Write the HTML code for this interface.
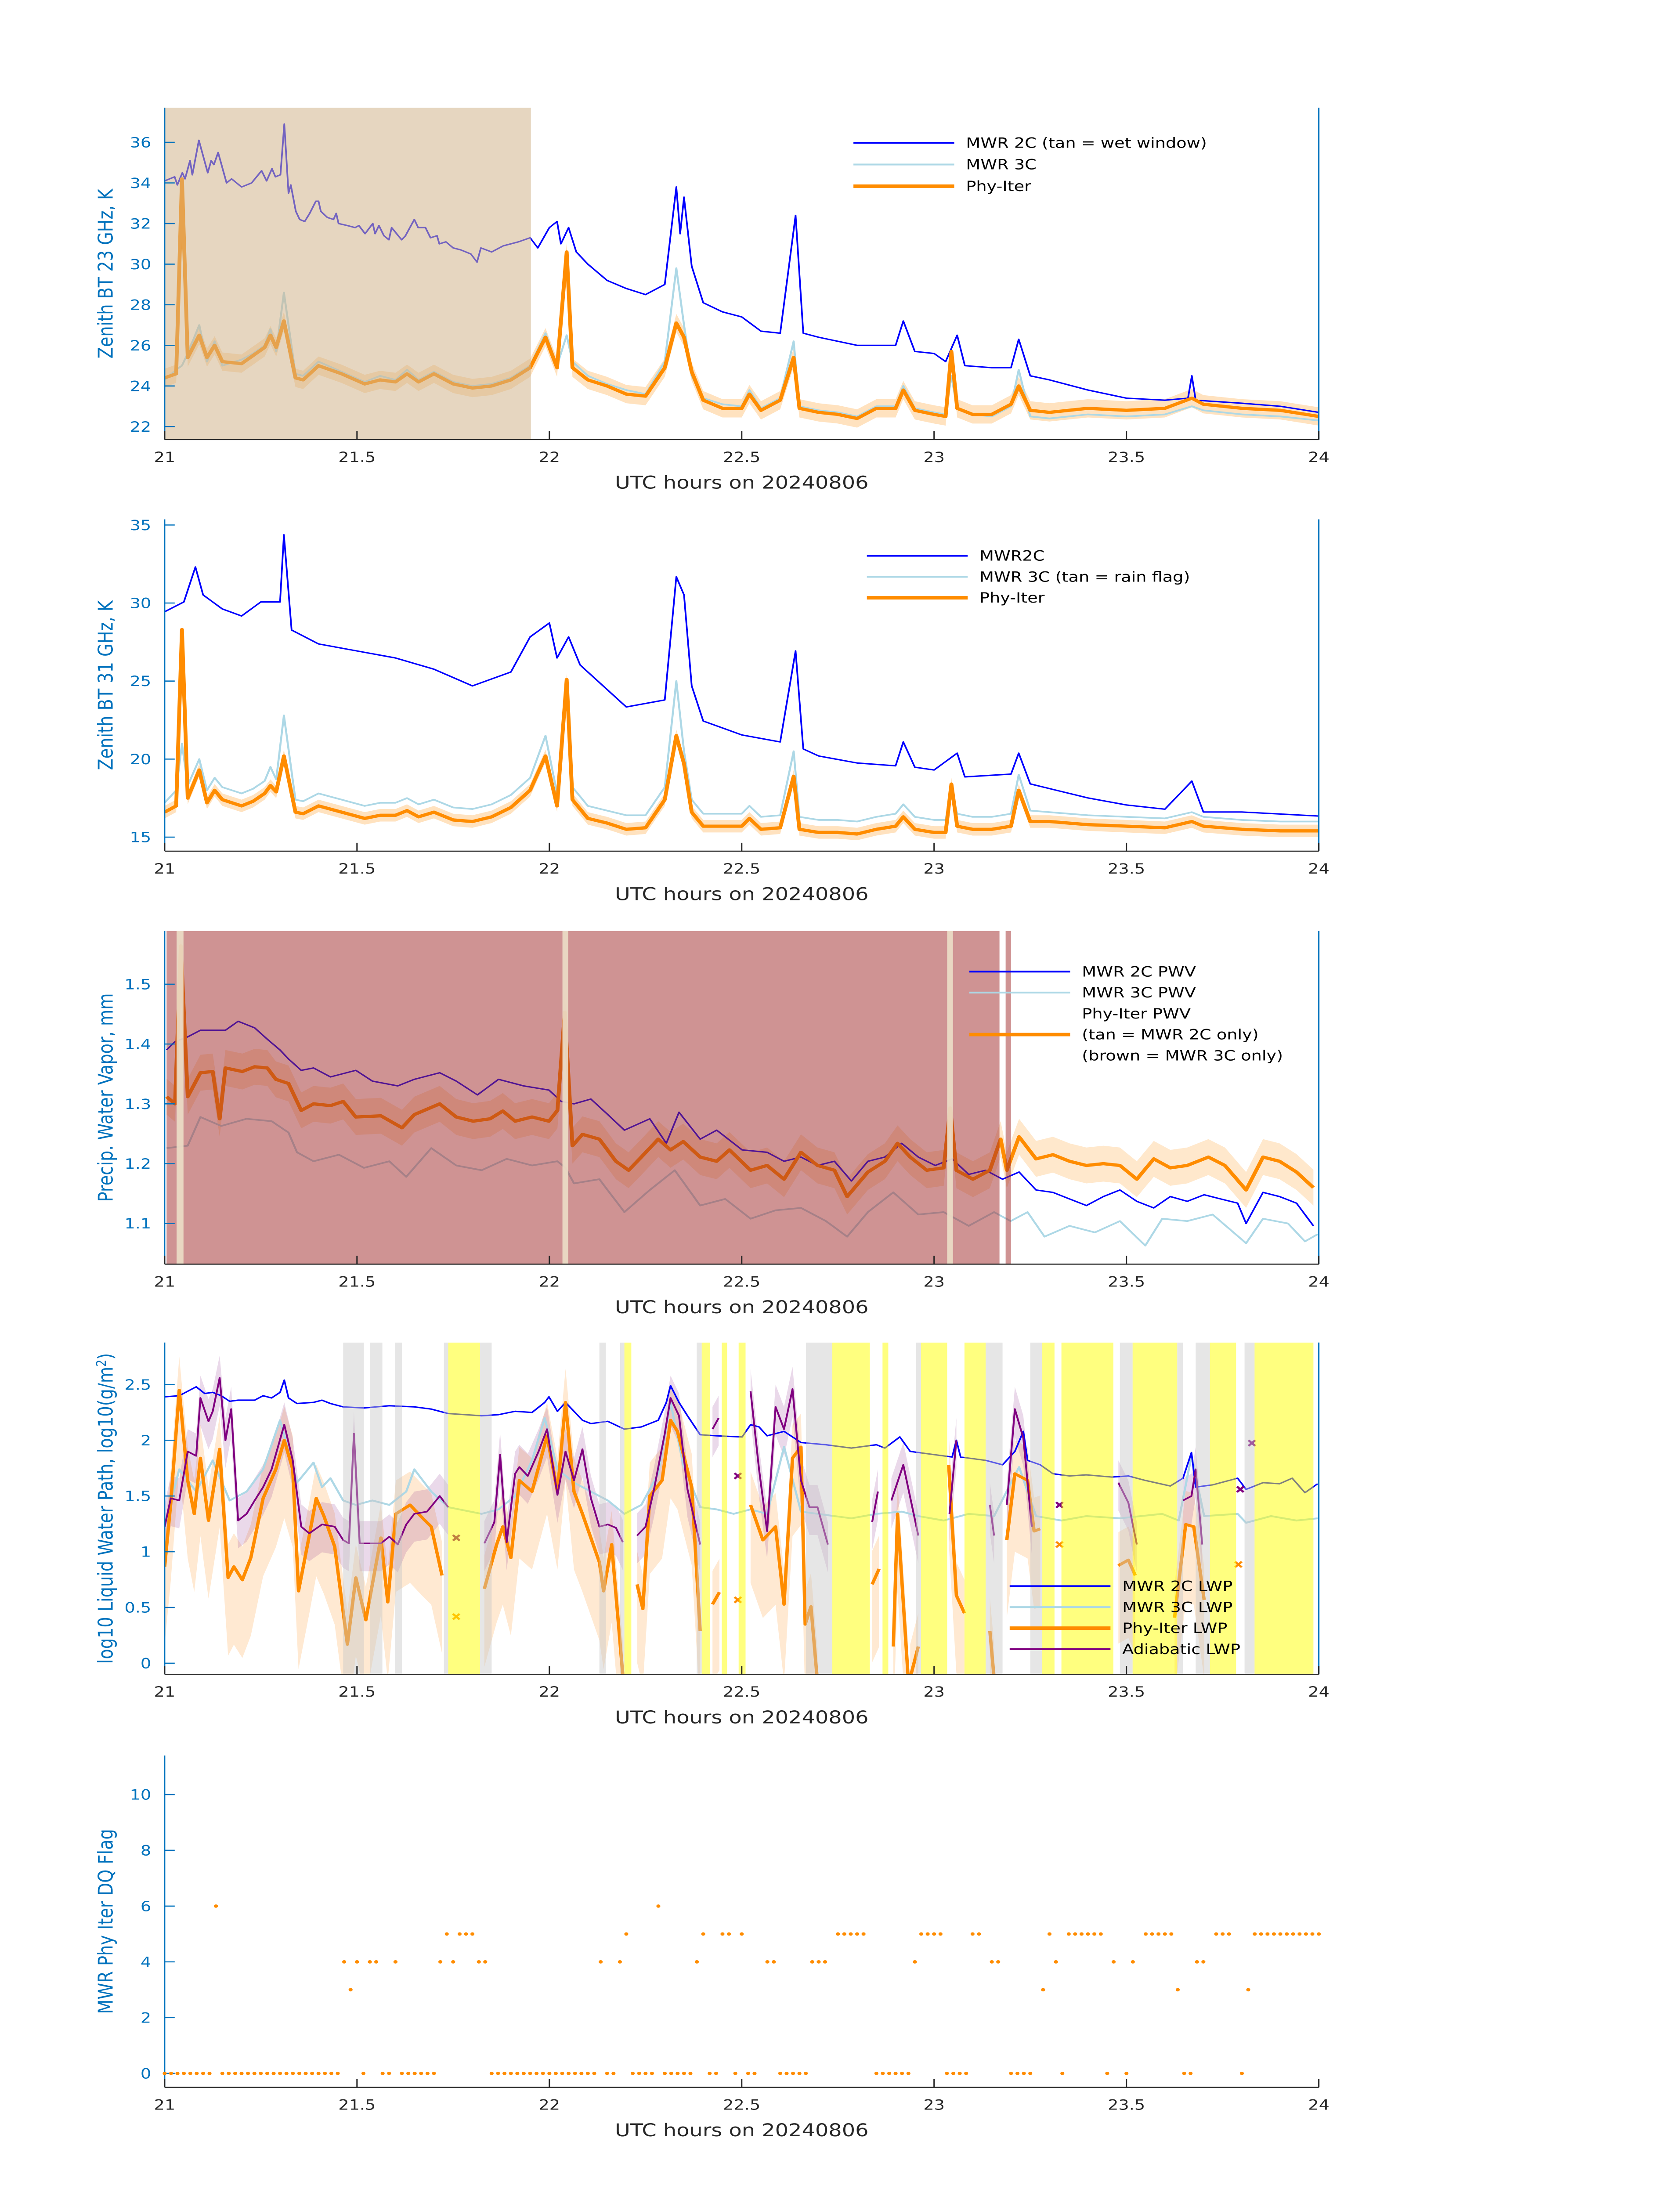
<!DOCTYPE html>
<html><head><meta charset="utf-8"><style>
html,body{margin:0;padding:0;background:#fff;overflow:hidden;width:100%;height:100%}
svg{display:block;width:100vw;height:100vh}
text{font-family:"DejaVu Sans","Liberation Sans",sans-serif}
</style></head><body>
<svg id="fig" xmlns="http://www.w3.org/2000/svg" viewBox="0 0 1000 1568.63" preserveAspectRatio="none"></svg>
<script>
// ---------- DATA ----------
const tPhy=[21,21.03,21.045,21.06,21.09,21.11,21.13,21.15,21.2,21.23,21.26,21.275,21.29,21.31,21.34,21.36,21.4,21.46,21.52,21.56,21.6,21.63,21.66,21.7,21.75,21.8,21.85,21.9,21.95,21.99,22.02,22.045,22.06,22.1,22.15,22.2,22.25,22.3,22.33,22.35,22.37,22.4,22.45,22.5,22.52,22.55,22.6,22.635,22.65,22.7,22.75,22.8,22.85,22.9,22.92,22.95,23,23.03,23.045,23.06,23.1,23.15,23.2,23.22,23.25,23.3,23.4,23.5,23.6,23.67,23.7,23.8,23.9,24];
const p1Phy=[24.4,24.6,34.2,25.4,26.5,25.4,26.0,25.2,25.1,25.5,25.9,26.5,25.9,27.2,24.4,24.3,25.0,24.6,24.1,24.3,24.2,24.6,24.2,24.6,24.1,23.9,24.0,24.3,24.9,26.4,24.9,30.6,24.9,24.3,24.0,23.6,23.5,24.9,27.1,26.4,24.7,23.3,22.9,22.9,23.6,22.8,23.3,25.4,22.9,22.7,22.6,22.4,22.9,22.9,23.8,22.8,22.6,22.5,25.7,22.9,22.6,22.6,23.1,24.0,22.8,22.7,22.9,22.8,22.9,23.4,23.1,22.9,22.8,22.5];
const p13C=[24.3,24.8,25.0,25.6,27.0,25.2,26.2,25.0,25.3,25.6,26.0,26.8,25.7,28.6,24.6,24.5,25.2,24.7,24.2,24.5,24.3,24.8,24.3,24.7,24.2,24.0,24.1,24.4,25.0,26.6,25.0,26.5,25.2,24.5,24.1,23.8,23.6,25.2,29.8,27.0,24.5,23.4,23.1,23.0,23.8,22.9,23.4,26.2,23.0,22.8,22.7,22.5,23.0,23.0,24.0,22.9,22.7,22.6,24.5,22.9,22.6,22.5,23.0,24.8,22.5,22.4,22.6,22.5,22.6,23.0,22.8,22.6,22.5,22.3];
const p2Phy=[16.6,17.0,28.3,17.5,19.3,17.2,18.0,17.4,17.0,17.3,17.8,18.3,17.9,20.2,16.6,16.5,17.0,16.6,16.2,16.4,16.4,16.7,16.3,16.6,16.1,16.0,16.3,16.9,18.0,20.2,17.0,25.1,17.4,16.2,15.9,15.5,15.6,17.4,21.5,19.7,16.6,15.7,15.7,15.7,16.2,15.5,15.6,18.9,15.5,15.3,15.3,15.2,15.5,15.7,16.3,15.5,15.3,15.3,18.4,15.7,15.5,15.5,15.7,18.0,16.0,16.0,15.8,15.7,15.6,16.0,15.7,15.5,15.4,15.4];
const p23C=[17.2,18.0,21.0,18.3,20.0,18.0,18.8,18.2,17.8,18.1,18.6,19.5,18.7,22.8,17.4,17.3,17.8,17.4,17.0,17.2,17.2,17.5,17.1,17.4,16.9,16.8,17.1,17.7,18.8,21.5,17.8,24.5,18.2,17.0,16.7,16.4,16.4,18.2,25.0,20.5,17.4,16.5,16.5,16.5,17.0,16.3,16.4,20.5,16.3,16.1,16.1,16.0,16.3,16.5,17.1,16.3,16.1,16.1,18.0,16.5,16.3,16.3,16.5,19.0,16.7,16.6,16.4,16.3,16.2,16.6,16.3,16.1,16.0,16.0];
const p1T2C=[21,21.026,21.033,21.046,21.053,21.066,21.072,21.089,21.112,21.121,21.128,21.139,21.161,21.174,21.2,21.226,21.252,21.265,21.279,21.288,21.301,21.311,21.322,21.328,21.341,21.351,21.364,21.377,21.393,21.4,21.406,21.423,21.439,21.446,21.452,21.475,21.495,21.505,21.521,21.541,21.547,21.557,21.57,21.583,21.59,21.616,21.626,21.649,21.659,21.678,21.691,21.708,21.714,21.731,21.75,21.77,21.796,21.812,21.822,21.85,21.88,21.92,21.95,21.97,22.0,22.02,22.03,22.05,22.07,22.1,22.15,22.2,22.25,22.3,22.33,22.34,22.35,22.37,22.4,22.45,22.5,22.55,22.6,22.64,22.66,22.7,22.8,22.9,22.92,22.95,23.0,23.03,23.06,23.08,23.15,23.2,23.22,23.25,23.3,23.4,23.5,23.6,23.66,23.67,23.68,23.8,23.9,24.0];
const p1V2C=[34.1,34.3,33.9,34.5,34.2,35.1,34.4,36.1,34.5,35.1,34.9,35.5,34.0,34.2,33.8,34.0,34.6,34.1,34.7,34.3,34.4,36.9,33.5,33.9,32.6,32.2,32.1,32.5,33.1,33.1,32.6,32.3,32.2,32.5,32.0,31.9,31.8,31.9,31.5,32.0,31.5,31.9,31.4,31.2,31.8,31.2,31.4,32.2,31.8,31.8,31.3,31.4,31.0,31.1,30.8,30.7,30.5,30.1,30.8,30.6,30.9,31.1,31.3,30.8,31.8,32.1,31.0,31.8,30.6,30.0,29.2,28.8,28.5,29.0,33.8,31.5,33.3,29.9,28.1,27.65,27.4,26.7,26.6,32.4,26.6,26.4,26.0,26.0,27.2,25.7,25.6,25.2,26.5,25.0,24.9,24.9,26.3,24.5,24.3,23.8,23.4,23.3,23.4,24.5,23.3,23.15,23.0,22.7];
const p2T2C=[21,21.05,21.08,21.1,21.15,21.2,21.25,21.3,21.31,21.33,21.4,21.5,21.6,21.7,21.8,21.9,21.95,22,22.02,22.05,22.08,22.1,22.2,22.3,22.33,22.35,22.37,22.4,22.5,22.6,22.64,22.66,22.7,22.8,22.9,22.92,22.95,23,23.06,23.08,23.2,23.22,23.25,23.4,23.5,23.6,23.67,23.7,23.8,24];
const p2V2C=[29.44,30.07,32.31,30.52,29.62,29.17,30.07,30.07,34.37,28.27,27.38,26.93,26.48,25.76,24.69,25.58,27.83,28.72,26.48,27.83,26.03,25.58,23.34,23.79,31.68,30.52,24.69,22.44,21.55,21.1,26.93,20.65,20.2,19.75,19.57,21.1,19.48,19.3,20.38,18.86,19.04,20.38,18.41,17.51,17.06,16.79,18.59,16.61,16.61,16.35];
// Panel 3 PWV
const p3T2C=[21.005,21.027,21.06,21.093,21.125,21.158,21.191,21.234,21.267,21.3,21.322,21.355,21.387,21.431,21.497,21.54,21.606,21.649,21.715,21.758,21.813,21.868,21.933,21.999,22.031,22.064,22.108,22.152,22.195,22.261,22.304,22.337,22.392,22.435,22.501,22.566,22.61,22.654,22.697,22.741,22.785,22.828,22.872,22.916,22.959,23.003,23.047,23.09,23.134,23.178,23.221,23.265,23.309,23.352,23.396,23.44,23.483,23.527,23.571,23.614,23.658,23.702,23.745,23.789,23.811,23.855,23.898,23.942,23.986];
const p3V2C=[1.390,1.404,1.412,1.423,1.423,1.423,1.438,1.427,1.408,1.390,1.375,1.356,1.360,1.345,1.356,1.338,1.330,1.341,1.352,1.338,1.315,1.341,1.330,1.323,1.304,1.300,1.308,1.282,1.256,1.275,1.234,1.286,1.241,1.256,1.223,1.219,1.204,1.211,1.197,1.204,1.171,1.204,1.211,1.234,1.211,1.197,1.208,1.182,1.189,1.174,1.186,1.156,1.152,1.141,1.130,1.145,1.156,1.137,1.126,1.145,1.137,1.148,1.141,1.134,1.100,1.152,1.145,1.134,1.096];
const p3TPhy=[21.005,21.027,21.042,21.06,21.093,21.125,21.143,21.158,21.202,21.234,21.267,21.289,21.322,21.355,21.387,21.431,21.464,21.497,21.562,21.617,21.649,21.715,21.758,21.802,21.846,21.879,21.911,21.955,21.999,22.021,22.04,22.06,22.086,22.13,22.173,22.206,22.239,22.283,22.315,22.348,22.392,22.435,22.468,22.523,22.566,22.61,22.654,22.697,22.741,22.774,22.828,22.872,22.905,22.938,22.981,23.025,23.042,23.058,23.101,23.145,23.173,23.189,23.221,23.265,23.309,23.352,23.396,23.44,23.483,23.527,23.571,23.614,23.658,23.713,23.756,23.811,23.855,23.898,23.942,23.986];
const p3VPhy=[1.312,1.300,1.564,1.312,1.352,1.354,1.275,1.360,1.354,1.362,1.360,1.341,1.334,1.289,1.300,1.297,1.304,1.278,1.280,1.260,1.282,1.300,1.278,1.271,1.275,1.288,1.271,1.278,1.271,1.289,1.453,1.230,1.249,1.241,1.204,1.189,1.211,1.241,1.223,1.237,1.211,1.204,1.223,1.189,1.197,1.174,1.219,1.197,1.189,1.145,1.186,1.204,1.234,1.211,1.189,1.193,1.293,1.189,1.174,1.189,1.241,1.189,1.245,1.208,1.215,1.204,1.197,1.200,1.197,1.174,1.208,1.193,1.197,1.211,1.197,1.156,1.211,1.204,1.186,1.160];
const p3T3C=[21.005,21.06,21.093,21.147,21.213,21.278,21.322,21.344,21.387,21.453,21.518,21.584,21.628,21.693,21.758,21.824,21.889,21.955,22.021,22.042,22.064,22.13,22.195,22.261,22.326,22.392,22.457,22.523,22.588,22.654,22.719,22.774,22.828,22.894,22.959,23.025,23.09,23.156,23.199,23.243,23.287,23.352,23.418,23.483,23.549,23.593,23.658,23.724,23.811,23.855,23.92,23.964,23.997];
const p3V3C=[1.226,1.230,1.278,1.263,1.275,1.271,1.252,1.219,1.204,1.215,1.193,1.204,1.178,1.226,1.197,1.189,1.208,1.197,1.204,1.193,1.167,1.174,1.119,1.156,1.189,1.130,1.141,1.108,1.122,1.126,1.104,1.078,1.119,1.152,1.115,1.119,1.096,1.119,1.104,1.119,1.078,1.096,1.085,1.104,1.063,1.108,1.104,1.115,1.067,1.108,1.100,1.070,1.082];
const p3Brown=[[21.005,23.17],[23.186,23.2]];
const p3Tan=[[21.031,21.049],[22.034,22.049],[23.034,23.049]];
// Panel 4 LWP
const p4T2C=[21.0,21.038,21.06,21.082,21.104,21.125,21.147,21.169,21.191,21.234,21.256,21.278,21.3,21.311,21.322,21.344,21.387,21.409,21.431,21.464,21.518,21.584,21.649,21.693,21.737,21.824,21.868,21.911,21.955,21.988,21.999,22.021,22.042,22.064,22.086,22.108,22.152,22.195,22.239,22.283,22.304,22.315,22.337,22.359,22.392,22.435,22.501,22.523,22.545,22.566,22.61,22.654,22.719,22.785,22.85,22.872,22.911,22.938,23.003,23.047,23.058,23.069,23.134,23.178,23.21,23.232,23.243,23.276,23.309,23.352,23.396,23.462,23.505,23.549,23.614,23.647,23.669,23.68,23.724,23.789,23.811,23.855,23.898,23.931,23.964,23.997];
const p4V2C=[2.39,2.40,2.44,2.48,2.42,2.43,2.40,2.35,2.36,2.36,2.40,2.38,2.43,2.54,2.38,2.33,2.34,2.36,2.33,2.30,2.29,2.31,2.30,2.28,2.24,2.22,2.23,2.26,2.25,2.34,2.39,2.26,2.34,2.26,2.18,2.15,2.17,2.10,2.12,2.18,2.34,2.49,2.34,2.22,2.05,2.04,2.03,2.14,2.12,2.04,2.08,1.98,1.96,1.93,1.96,1.93,2.03,1.90,1.87,1.85,2.00,1.85,1.82,1.78,1.90,2.08,1.82,1.78,1.70,1.68,1.69,1.67,1.68,1.64,1.59,1.66,1.89,1.58,1.60,1.66,1.56,1.62,1.61,1.66,1.53,1.61];
const p4T3C=[21.0,21.038,21.082,21.125,21.169,21.213,21.256,21.3,21.344,21.387,21.409,21.431,21.464,21.497,21.54,21.584,21.628,21.649,21.693,21.737,21.824,21.868,21.911,21.955,21.988,22.021,22.064,22.108,22.152,22.195,22.239,22.283,22.315,22.348,22.392,22.435,22.479,22.523,22.566,22.61,22.654,22.741,22.785,22.85,22.916,22.959,23.025,23.09,23.156,23.221,23.265,23.331,23.396,23.483,23.593,23.636,23.669,23.702,23.789,23.811,23.876,23.942,23.997];
const p4V3C=[1.225,1.74,1.54,1.82,1.46,1.54,1.74,2.18,1.62,1.80,1.58,1.66,1.46,1.42,1.46,1.42,1.54,1.74,1.54,1.40,1.34,1.38,1.50,1.82,2.20,1.74,1.62,1.54,1.46,1.34,1.42,1.70,2.34,1.78,1.40,1.38,1.34,1.38,1.34,1.94,1.36,1.32,1.30,1.34,1.36,1.32,1.28,1.34,1.32,1.76,1.32,1.28,1.32,1.30,1.34,1.28,1.86,1.32,1.34,1.26,1.32,1.28,1.30];
const p4TPhy=[21.0,21.016,21.038,21.06,21.077,21.093,21.114,21.143,21.165,21.18,21.202,21.224,21.256,21.289,21.311,21.333,21.348,21.376,21.394,21.414,21.442,21.475,21.497,21.523,21.562,21.58,21.601,21.638,21.671,21.693,21.721,null,21.831,21.863,21.879,21.9,21.922,21.955,21.994,22.021,22.042,22.064,22.086,22.13,22.141,22.162,22.191,null,22.228,22.243,22.261,22.293,22.315,22.333,22.37,22.392,null,22.424,22.442,null,22.523,22.555,22.588,22.61,22.632,22.654,22.665,22.68,22.697,null,22.839,22.857,null,22.894,22.905,22.933,null,22.938,22.959,null,23.038,23.058,23.079,null,23.145,23.156,null,23.189,23.21,23.243,23.26,23.276,null,23.479,23.505,23.523,null,23.625,23.654,23.675,23.702];
const p4VPhy=[0.866,1.44,2.45,1.64,1.34,1.84,1.28,1.92,0.767,0.866,0.747,0.946,1.48,1.74,2.00,1.74,0.647,1.145,1.48,1.32,1.046,0.169,0.767,0.388,1.125,0.548,1.34,1.42,1.30,1.225,0.787,null,0.667,1.065,1.225,0.946,1.64,1.54,2.04,1.54,2.34,1.54,1.34,0.906,0.647,1.065,-0.11,null,0.707,0.488,1.50,1.64,2.18,2.08,1.58,0.289,null,0.528,0.637,null,1.42,1.105,1.225,0.528,1.84,1.94,0.349,0.508,-0.17,null,0.707,0.846,null,0.15,1.34,-0.15,null,-0.13,0.15,null,1.78,0.608,0.448,null,0.289,-0.13,null,1.105,1.70,1.64,1.185,1.205,null,0.876,0.926,0.787,null,0.408,1.245,1.225,0.568];
const p4TAdi=[21.0,21.016,21.038,21.06,21.082,21.093,21.114,21.125,21.143,21.158,21.173,21.191,21.213,21.234,21.256,21.278,21.311,21.333,21.355,21.376,21.409,21.442,21.464,21.479,21.492,21.507,21.562,21.584,21.606,21.628,21.649,21.682,21.715,21.737,null,21.831,21.857,21.872,21.889,21.911,21.922,21.944,21.972,21.994,22.021,22.042,22.064,22.086,22.108,22.13,22.152,22.173,22.191,null,22.228,22.25,22.272,22.3,22.315,22.337,22.359,22.392,null,22.424,22.44,null,22.523,22.545,22.566,22.588,22.61,22.632,22.654,22.676,22.697,22.724,null,22.839,22.854,null,22.889,22.92,22.959,null,23.04,23.058,null,23.145,23.156,null,23.189,23.21,23.232,23.254,null,23.479,23.505,23.527,null,23.647,23.669,23.68,23.697];
const p4VAdi=[1.225,1.48,1.46,1.90,1.86,2.38,2.17,2.26,2.56,2.00,2.28,1.28,1.34,1.46,1.58,1.74,2.14,1.82,1.225,1.165,1.245,1.225,1.105,1.075,2.06,1.075,1.075,1.135,1.065,1.245,1.34,1.36,1.50,1.40,null,1.075,1.265,1.87,1.085,1.70,1.76,1.68,1.90,2.10,1.51,1.90,1.64,1.92,1.48,1.225,1.245,1.215,1.085,null,1.145,1.225,1.56,2.06,2.38,2.22,1.56,1.065,null,2.10,2.20,null,2.44,1.74,1.185,2.30,2.10,2.46,1.64,1.40,1.40,1.065,null,1.265,1.54,null,1.46,1.78,1.145,null,1.34,2.00,null,1.42,1.145,null,1.42,2.28,2.02,1.225,null,1.62,1.44,1.065,null,1.46,1.50,1.74,1.065];
const p4AdiMarkT=[21.758,22.49,23.326,23.796,23.826];
const p4AdiMarkV=[1.125,1.68,1.42,1.56,1.975];
const p4PhyMarkT=[21.758,22.49,23.326,23.791];
const p4PhyMarkV=[0.418,0.568,1.065,0.886];
const p4Gray=[[21.464,21.518],[21.534,21.566],[21.599,21.617],[21.726,21.737],[21.82,21.85],[22.13,22.147],[22.184,22.195],[22.383,22.396],[22.667,22.735],[22.953,22.966],[23.134,23.178],[23.25,23.28],[23.483,23.516],[23.632,23.647],[23.68,23.717],[23.807,23.833]];
const p4Yellow=[[21.737,21.82],[22.195,22.213],[22.396,22.418],[22.448,22.462],[22.492,22.51],[22.735,22.833],[22.866,22.881],[22.966,23.034],[23.079,23.134],[23.28,23.313],[23.331,23.466],[23.516,23.632],[23.717,23.785],[23.833,23.986]];
// Panel 5 DQ flag: one value per minute from 21:00 (null = no dot)
const dqFlags=[0,0,0,0,0,0,0,0,6,0,0,0,0,0,0,0,0,0,0,0,0,0,0,0,0,0,0,0,4,3,4,0,4,4,0,0,4,0,0,0,0,0,0,4,5,4,5,5,5,4,4,0,0,0,0,0,0,0,0,0,0,0,0,0,0,0,0,0,4,0,0,4,5,0,0,0,0,6,0,0,0,0,0,4,5,0,0,5,5,0,5,0,0,null,4,4,0,0,0,0,0,4,4,4,null,5,5,5,5,5,null,0,0,0,0,0,0,4,5,5,5,5,0,0,0,0,5,5,null,4,4,null,0,0,0,0,null,3,5,4,0,5,5,5,5,5,5,0,4,null,0,4,null,5,5,5,5,5,3,0,0,4,4,null,5,5,5,null,0,3,5,5,5,5,5,5,5,5,5,5,5];
const xTicks=[21,21.5,22,22.5,23,23.5,24];
const xTickLabels=['21','21.5','22','22.5','23','23.5','24'];
const p1Ticks=[22,24,26,28,30,32,34,36];
const p2Ticks=[15,20,25,30,35];
const p3Ticks=[1.1,1.2,1.3,1.4,1.5];
const p4Ticks=[0,0.5,1,1.5,2,2.5];
const p4TickLabels=['0','0.5','1','1.5','2','2.5'];
const p5Ticks=[0,2,4,6,8,10];

// ---------- DRAWING ----------
const NS='http://www.w3.org/2000/svg';
const svg=document.getElementById('fig');
function mk(tag,attrs,parent){const e=document.createElementNS(NS,tag);for(const k in attrs)e.setAttribute(k,attrs[k]);(parent||svg).appendChild(e);return e;}
const L=98,R=785;
function X(h){return L+(h-21)*229;}
function panel(top,bot,ymin,ymax){return {top,bot,Y:v=>bot-(v-ymin)*(bot-top)/(ymax-ymin)};}
const P=[panel(77,314,21.36,37.7),panel(371,608,14.1,35.36),panel(665,903,1.032,1.589),panel(959,1196,-0.1,2.877),panel(1254,1491,-0.5,11.4)];
const BLUEAX='#0072bd';
function pathD(ts,vs,Y){let d='',pen=false;const n=Math.min(ts.length,vs.length);for(let i=0;i<n;i++){if(ts[i]===null||vs[i]===null){pen=false;continue;}d+=(pen?'L':'M')+X(ts[i]).toFixed(2)+' '+Y(vs[i]).toFixed(2);pen=true;}return d;}
function bandD(ts,vs,Y,lo,hi){const n=Math.min(ts.length,vs.length);let segs=[],cur=[];for(let i=0;i<n;i++){if(ts[i]===null||vs[i]===null){if(cur.length)segs.push(cur);cur=[];continue;}cur.push(i);}if(cur.length)segs.push(cur);let d='';segs.forEach(s=>{if(s.length<2)return;d+='M'+s.map(i=>X(ts[i]).toFixed(2)+' '+Y(vs[i]+hi).toFixed(2)).join('L');d+='L'+s.slice().reverse().map(i=>X(ts[i]).toFixed(2)+' '+Y(vs[i]-lo).toFixed(2)).join('L')+'Z';});return d;}
function clip(id,p){const c=mk('clipPath',{id:id});mk('rect',{x:L,y:p.top,width:R-L,height:p.bot-p.top},c);return 'url(#'+id+')';}

function axes(p,idx,ticks,labels,ylabel,rightLine){
  const g=mk('g',{});
  
  
  const ya=mk('line',{x1:L,y1:p.top,x2:L,y2:p.bot,stroke:BLUEAX,'stroke-width':0.8},g);
  
  
  if(rightLine){const ra=mk('line',{x1:R,y1:p.top,x2:R,y2:p.bot,stroke:BLUEAX,'stroke-width':0.8},g);
    
    }
  const xa=mk('line',{x1:L,y1:p.bot,x2:R,y2:p.bot,stroke:'#262626','stroke-width':0.8},g);
  
  
  ticks.forEach((v,i)=>{const y=p.Y(v);
    mk('line',{x1:L,y1:y,x2:L+6,y2:y,stroke:BLUEAX,'stroke-width':0.8},g);
    const t=mk('text',{x:L-8,y:y+3.6,'text-anchor':'end','font-size':10,fill:BLUEAX},g);t.textContent=labels?labels[i]:String(v);
    
    });
  xTicks.forEach((h,i)=>{const x=X(h);
    mk('line',{x1:x,y1:p.bot,x2:x,y2:p.bot-6,stroke:'#262626','stroke-width':0.8},g);
    const t=mk('text',{x:x,y:p.bot+16,'text-anchor':'middle','font-size':10,fill:'#262626'},g);t.textContent=xTickLabels[i];
    
    });
  const xl=mk('text',{x:441.5,y:p.bot+35,'text-anchor':'middle','font-size':12.5,fill:'#262626'},g);xl.textContent='UTC hours on 20240806';
  
  
  const cy=(p.top+p.bot)/2;
  const yl=mk('text',{x:0,y:0,transform:'translate(67,'+cy+') rotate(-90)','text-anchor':'middle','font-size':12,fill:BLUEAX},g);yl.innerHTML=ylabel;
  
  
}
function legend(items,x0,y0,dy){
  const g=mk('g',{});
  
  
  items.forEach((it,i)=>{const y=y0+i*dy;
    if(it.c){const l=mk('line',{x1:x0,y1:y,x2:x0+60,y2:y,stroke:it.c,'stroke-width':it.w},g);
      
      }
    const t=mk('text',{x:x0+67,y:y+3.5,'font-size':10,fill:'#000'},g);t.textContent=it.t;
    
    });
}
function line(ts,vs,p,color,w,cp,name,op){const e=mk('path',{d:pathD(ts,vs,p.Y),fill:'none',stroke:color,'stroke-width':w,'stroke-linejoin':'round','clip-path':cp,opacity:op||1});
  
  return e;}
function band(ts,vs,p,lo,hi,color,op,cp,name){const e=mk('path',{d:bandD(ts,vs,p.Y,lo,hi),fill:color,'fill-opacity':op,stroke:'none','clip-path':cp});
  
  return e;}
function spans(list,p,color,op,cp,name){list.forEach(s=>{const r=mk('rect',{x:X(s[0]),y:p.top,width:Math.max(0.5,X(s[1])-X(s[0])),height:p.bot-p.top,fill:color,'fill-opacity':op,'clip-path':cp});
  
  });}

// Panel 1
let cp=clip('c1',P[0]);
band(tPhy,p1Phy,P[0],0.45,0.45,'#ff8c00',0.25,cp,'phy-iter-uncertainty');
line(tPhy,p13C,P[0],'#add8e6',1.2,cp,'mwr-3c-line');
line(p1T2C,p1V2C,P[0],'#0000ff',1,cp,'mwr-2c-line');
line(tPhy,p1Phy,P[0],'#ff8c00',2.3,cp,'phy-iter-line');
spans([[21,21.952]],P[0],'#d2b48c',0.55,cp,'wet-window-shading');
axes(P[0],1,p1Ticks,null,'Zenith BT 23 GHz, K',true);
legend([{c:'#0000ff',w:1.3,t:'MWR 2C (tan = wet window)'},{c:'#add8e6',w:1.3,t:'MWR 3C'},{c:'#ff8c00',w:2.5,t:'Phy-Iter'}],508,102,15.5);

// Panel 2
cp=clip('c2',P[1]);
band(tPhy,p2Phy,P[1],0.4,0.4,'#ff8c00',0.25,cp,'phy-iter-uncertainty');
line(tPhy,p23C,P[1],'#add8e6',1.2,cp,'mwr-3c-line');
line(p2T2C,p2V2C,P[1],'#0000ff',1,cp,'mwr-2c-line');
line(tPhy,p2Phy,P[1],'#ff8c00',2.3,cp,'phy-iter-line');
axes(P[1],2,p2Ticks,null,'Zenith BT 31 GHz, K',true);
legend([{c:'#0000ff',w:1.3,t:'MWR2C'},{c:'#add8e6',w:1.3,t:'MWR 3C (tan = rain flag)'},{c:'#ff8c00',w:2.5,t:'Phy-Iter'}],516,397,15);

// Panel 3
cp=clip('c3',P[2]);
band(p3TPhy,p3VPhy,P[2],0.03,0.03,'#ff8c00',0.2,cp,'phy-iter-uncertainty');
line(p3T3C,p3V3C,P[2],'#add8e6',1.2,cp,'mwr-3c-pwv-line');
line(p3T2C,p3V2C,P[2],'#0000ff',1,cp,'mwr-2c-pwv-line');
line(p3TPhy,p3VPhy,P[2],'#ff8c00',2.3,cp,'phy-iter-pwv-line');
spans(p3Brown,P[2],'#a02828',0.5,cp,'mwr-3c-only-shading');
spans(p3Tan,P[2],'#ebdcc6',0.92,cp,'mwr-2c-only-shading');
axes(P[2],3,p3Ticks,null,'Precip. Water Vapor, mm',true);
legend([{c:'#0000ff',w:1.3,t:'MWR 2C PWV'},{c:'#add8e6',w:1.3,t:'MWR 3C PWV'},{c:null,t:'Phy-Iter PWV'},{c:'#ff8c00',w:2.5,t:'(tan = MWR 2C only)'},{c:null,t:'(brown = MWR 3C only)'}],577,694,15);

// Panel 4
cp=clip('c4',P[3]);
band(p4TPhy,p4VPhy,P[3],0.7,0.3,'#ff9b30',0.22,cp,'phy-iter-lwp-uncertainty');
band(p4TAdi,p4VAdi,P[3],0.25,0.2,'#8b2a8b',0.18,cp,'adiabatic-lwp-uncertainty');
line(p4T3C,p4V3C,P[3],'#add8e6',1.3,cp,'mwr-3c-lwp-line');
line(p4T2C,p4V2C,P[3],'#0000ff',1,cp,'mwr-2c-lwp-line');
line(p4TPhy,p4VPhy,P[3],'#ff8c00',2,cp,'phy-iter-lwp-line');
line(p4TAdi,p4VAdi,P[3],'#800080',1.1,cp,'adiabatic-lwp-line');
function marks(ts,vs,color,name){ts.forEach((t,i)=>{const x=X(t),y=P[3].Y(vs[i]);const m=mk('path',{d:`M${x-2} ${y-2}L${x+2} ${y+2}M${x-2} ${y+2}L${x+2} ${y-2}`,stroke:color,'stroke-width':1.4,fill:'none'});
  
  });}
marks(p4AdiMarkT,p4AdiMarkV,'#800080','adiabatic-marker');
marks(p4PhyMarkT,p4PhyMarkV,'#ff8c00','phy-iter-marker');
spans(p4Yellow,P[3],'#ffff00',0.5,cp,'yellow-flag-band');
spans(p4Gray,P[3],'#c8c8c8',0.45,cp,'gray-flag-band');
axes(P[3],4,p4Ticks,p4TickLabels,'log10 Liquid Water Path, log10(g/m<tspan dy="-4" font-size="8">2</tspan><tspan dy="4">)</tspan>',true);
legend([{c:'#0000ff',w:1.3,t:'MWR 2C LWP'},{c:'#add8e6',w:1.3,t:'MWR 3C LWP'},{c:'#ff8c00',w:2.5,t:'Phy-Iter LWP'},{c:'#800080',w:1.3,t:'Adiabatic LWP'}],601,1133,15);

// Panel 5
axes(P[4],5,p5Ticks,null,'MWR Phy Iter DQ Flag',false);
dqFlags.forEach((f,i)=>{if(f===null)return;const c=mk('circle',{cx:X(21+i/60),cy:P[4].Y(f),r:1.2,fill:'#ff8c00'});
  
  });
</script>
</body></html>
